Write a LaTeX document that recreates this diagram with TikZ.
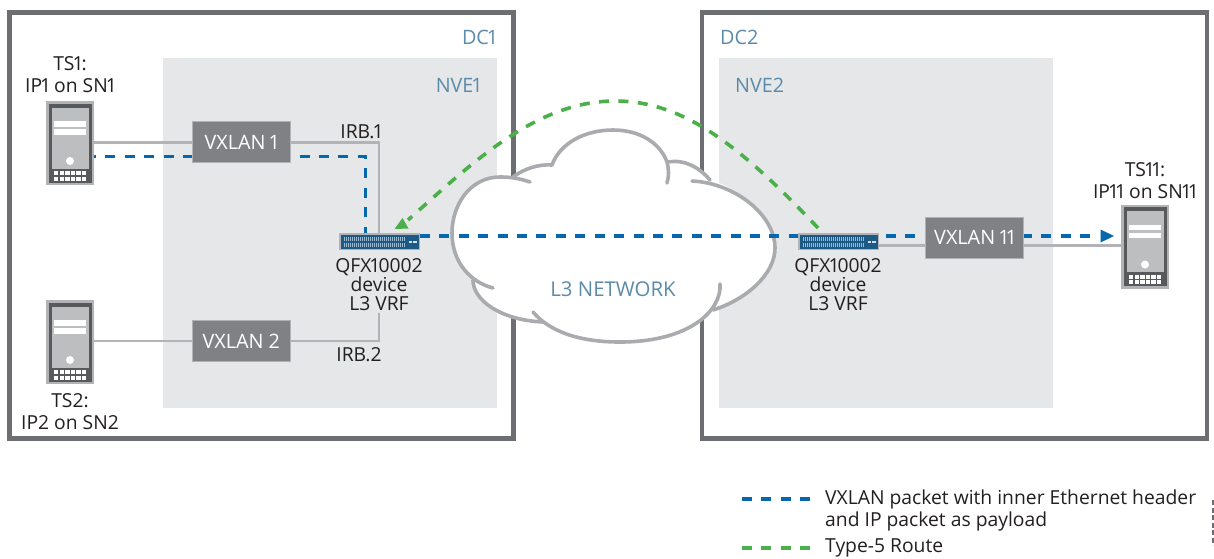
\documentclass[tikz,border=0pt]{standalone}
\usepackage{fontspec}
\setmainfont{Open Sans}
\definecolor{frameC}{HTML}{6D6E71}
\definecolor{nveC}{HTML}{E6E7E8}
\definecolor{lineC}{HTML}{B1B3B6}
\definecolor{cloudC}{HTML}{A9ABAE}
\definecolor{boxC}{HTML}{808184}
\definecolor{txtC}{HTML}{231F20}
\definecolor{lblC}{HTML}{5B8BA9}
\definecolor{blueC}{HTML}{0567AD}
\definecolor{greenC}{HTML}{4CB04A}
\definecolor{srvDark}{HTML}{58595B}
\definecolor{srvBody}{HTML}{BCBEC0}
\definecolor{swC}{HTML}{1C5A85}
\definecolor{swPort}{HTML}{9DBBD0}
\newcommand{\nar}{\kern-2pt 1\kern-2pt{}}
\tikzset{
  x=1pt,y=-1pt,
  frame/.style={draw=frameC,line width=4.5pt},
  nve/.style={fill=nveC},
  wire/.style={draw=lineC,line width=2.6pt},
  cloudline/.style={draw=cloudC,line width=3.6pt,line cap=round},
  bluedash/.style={draw=blueC,line width=3.4pt,dash pattern=on 10pt off 9.41pt},
  greendash/.style={draw=greenC,line width=3.6pt,dash pattern=on 10pt off 9.41pt},
  vx/.style={draw=lineC,line width=.8pt,fill=boxC,text=white,minimum height=41pt,inner sep=0pt,font=\fontsize{19.8}{22}\selectfont},
  txt/.style={text=txtC,align=center,inner sep=0pt,font=\fontsize{19.3}{22}\selectfont},
  lbl/.style={text=lblC,inner sep=0pt,font=\fontsize{19.8}{22}\selectfont},
  hold/.style={minimum width=48pt,minimum height=84pt,inner sep=0pt},
  swhold/.style={minimum width=81pt,minimum height=17pt,inner sep=0pt},
}
\newcommand{\srvpic}[3]{%
  \node[hold] (#3) at (#1,#2) {};
  \begin{scope}[shift={(#1,#2)}]
    \fill[lineC] (-24,-42) rectangle (24,42);
    \fill[srvDark] (-21.3,-39.5) rectangle (22,39.5);
    \fill[srvBody] (-18.3,-35.5) rectangle (19,25.5);
    \fill[white] (-16,-22) rectangle (16,-16.3);
    \fill[white] (-16,-14) rectangle (16,-8.5);
    \fill[white] (0,18) circle (4pt);
    \foreach \i in {0,...,5}{
      \fill[white] (-16+\i*5.6,28) rectangle ++(4.3,4);
      \fill[white] (-16+\i*5.6,33.6) rectangle ++(4.3,4);
    }
  \end{scope}}
\newcommand{\swpic}[3]{%
  \node[swhold] (#3) at (#1,#2) {};
  \begin{scope}[shift={(#1,#2)}]
    \fill[lineC] (-40.5,-8.5) rectangle (40.5,8.5);
    \fill[swC] (-39,-7) rectangle (39,7);
    \fill[swPort] (-37,-5) rectangle (25,-0.8);
    \fill[swPort] (-37,1.2) rectangle (25,5.4);
    \foreach \i in {0,...,30}{
      \draw[swC,line width=.35pt] (-36+\i*2,-5) -- ++(0,4.2);
      \draw[swC,line width=.35pt] (-36+\i*2,1.2) -- ++(0,4.2);
    }
    \fill[white!80!swC] (29,-0.5) rectangle (32.5,1);
    \fill[white!80!swC] (33.5,-0.5) rectangle (37,1);
  \end{scope}}
\begin{document}
\begin{tikzpicture}
\useasboundingbox (0,0) rectangle (1214,558);
\fill[white] (0,0) rectangle (1214,558);
% frames and NVE panels
\node[frame,minimum width=504pt,minimum height=426pt,inner sep=0pt] (dc1) at (261.5,225.5) {};
\node[frame,minimum width=505pt,minimum height=426pt,inner sep=0pt] (dc2) at (954.5,225.5) {};
\node[nve,minimum width=334pt,minimum height=350.5pt,inner sep=0pt] (nve1) at (330,233.2) {};
\node[nve,minimum width=334pt,minimum height=350.5pt,inner sep=0pt] (nve2) at (886,233.2) {};
% cloud
\fill[white] (500,177) .. controls (470,177) and (452,205) .. (452,233)
  .. controls (452,255) and (462,272) .. (473,280)
  .. controls (473,300) and (500,320) .. (543,322)
  .. controls (565,335) and (590,342) .. (620,342)
  .. controls (660,342) and (690,330) .. (713,310)
  .. controls (745,300) and (775,275) .. (775,248)
  .. controls (775,220) and (745,190) .. (710,180)
  .. controls (700,168) and (685,159) .. (668,162)
  .. controls (660,143) and (640,130) .. (613,130)
  .. controls (585,130) and (560,143) .. (552,165)
  .. controls (540,164) and (525,168) .. (513,177) -- cycle;
\draw[cloudline] (530,182) .. controls (518,178) and (510,177) .. (500,177)
  .. controls (470,177) and (452,205) .. (452,233)
  .. controls (452,262) and (470,282) .. (493,288);
\draw[cloudline] (513,177) .. controls (525,168) and (540,164) .. (552,165);
\draw[cloudline] (552,165) .. controls (560,143) and (585,130) .. (613,130)
  .. controls (640,130) and (660,143) .. (667,162)
  .. controls (669,170) and (669,176) .. (667,183);
\draw[cloudline] (668,162) .. controls (685,159) and (700,168) .. (710,180);
\draw[cloudline] (692,181) .. controls (735,183) and (775,215) .. (775,248)
  .. controls (775,275) and (745,300) .. (713,310);
\draw[cloudline] (720,284) .. controls (722,310) and (690,342) .. (620,342)
  .. controls (580,342) and (550,332) .. (533,312);
\draw[cloudline] (473,280) .. controls (473,300) and (500,320) .. (543,322);
\node[lbl,font=\fontsize{20.4}{22}\selectfont] (l3net) at (613,289) {L3 NETWORK};
% servers and switches
\srvpic{70}{143}{ts1}
\srvpic{70}{342}{ts2}
\srvpic{1145}{246.5}{ts11}
\coordinate (irb1c) at (379,142.3);
\coordinate (irb2c) at (379,341);
\coordinate (irb2top) at (379,313);
\coordinate (bluecorner) at (365.5,156.7);
\coordinate (blueeast) at (94,156.7);
\coordinate (tipe) at (1114,236);
\coordinate (tips) at (420,236);
\coordinate (bluestop) at (1090,236);
\coordinate (pk) at (615,101);
\coordinate (gs) at (818,228);
\coordinate (gd) at (408,220);
\coordinate (ge) at (394.5,229);
\swpic{379.5}{241.5}{sw1}
\draw[bluedash,dash phase=8pt] (blueeast) -- (bluecorner) -- (bluecorner |- sw1.north);
\draw[bluedash] (tips) -- (bluestop);
\fill[blueC] (tipe) -- (1100.5,229.5) -- (1100.5,242.5) -- cycle;
\swpic{838.5}{241.5}{sw2}
% boxes and grey wires
\node[vx,minimum width=98.5pt] (vx1) at (241.3,142) {VXLAN \nar};
\node[vx,minimum width=98.5pt] (vx2) at (241.3,341) {VXLAN 2};
\node[vx,minimum width=98.5pt] (vx11) at (974.6,237.7) {VXLAN \nar\nar};
\draw[wire] (ts1.east |- irb1c) -- (vx1.west |- irb1c);
\draw[wire] (vx1.east |- irb1c) -- (irb1c) -- (irb1c |- sw1.north);
\draw[wire] (ts2.east |- irb2c) -- (vx2.west |- irb2c);
\draw[wire] (vx2.east |- irb2c) -- (irb2c) -- (irb2top);
\coordinate (w11) at (900,245.3);
\draw[wire] (sw2.east |- w11) -- (vx11.west |- w11);
\draw[wire] (vx11.east |- w11) -- (ts11.west |- w11);
% green route
\draw[greendash] (gs) .. controls (735,140) and (680,101) .. (pk)
  .. controls (535,101) and (470,165) .. (gd);
\fill[greenC] (ge) -- (402.5,218) -- (408.5,228.5) -- cycle;
% labels
\node[lbl,anchor=east] (ldc1) at (496.5,37) {DC\nar};
\node[lbl,anchor=east] (lnve1) at (481,85) {NVE\nar};
\node[lbl,anchor=west] (ldc2) at (720,37) {DC2};
\node[lbl,anchor=west] (lnve2) at (735,85) {NVE2};
\node[txt] (lts1) at (70,74.5) {TS\nar:\\IP\nar{} on SN\nar};
\node[txt] (lts2) at (70,411.5) {TS2:\\IP2 on SN2};
\node[txt] (lts11) at (1145,180.5) {TS\nar\nar:\\IP\nar\nar{} on SN\nar\nar};
\node[txt] (lirb1) at (361,132) {IRB.\nar};
\node[txt] (lirb2) at (359,355) {IRB.2};
\node[txt,font=\fontsize{19.3}{19}\selectfont] (lq1) at (379,285) {QFX\nar 0002\\device\\L3 VRF};
\node[txt,font=\fontsize{19.3}{19}\selectfont] (lq2) at (838,285) {QFX\nar 0002\\device\\L3 VRF};
% legend
\coordinate (lb1) at (742,499);
\coordinate (lb2) at (810,499);
\coordinate (lg1) at (742,547.7);
\coordinate (lg2) at (810,547.7);
\draw[bluedash] (lb1) -- (lb2);
\draw[greendash] (lg1) -- (lg2);
\node[txt,anchor=west,align=left] (lt1) at (825,510) {VXLAN packet with inner Ethernet header\\and IP packet as payload};
\node[txt,anchor=west] (lt2) at (825,547.5) {Type-5 Route};
% cropped mark at the right margin
\coordinate (m1) at (1212.8,500);
\coordinate (m2) at (1212.8,545);
\draw[frameC,line width=1.4pt,dash pattern=on 5pt off 2.5pt] (m1) -- (m2);
\end{tikzpicture}
\end{document}
